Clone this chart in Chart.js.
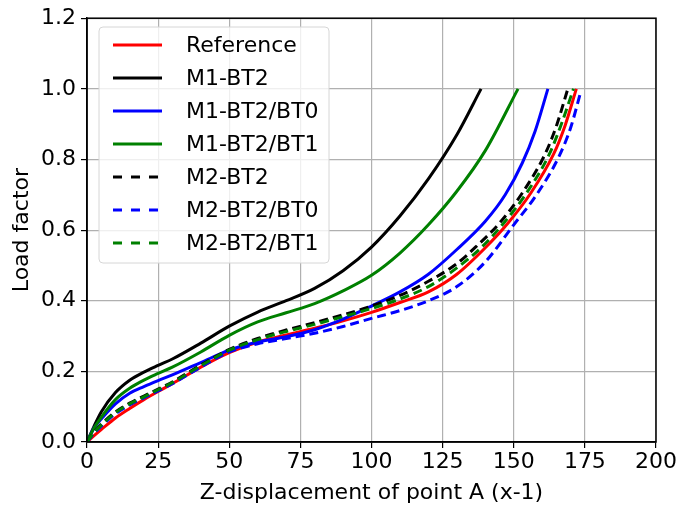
<!DOCTYPE html>
<html>
<head>
<meta charset="utf-8">
<script src="https://cdn.jsdelivr.net/npm/chart.js@4/dist/chart.umd.min.js"></script>
<style>
  html, body { margin: 0; padding: 0; background: #fff; }
  #wrap { width: 681px; height: 507px; }
</style>
</head>
<body>
<div id="wrap"><canvas id="loadChart" width="681" height="507"></canvas></div>
<script>
// values
const labels = ['Reference', 'M1-BT2', 'M1-BT2/BT0', 'M1-BT2/BT1', 'M2-BT2', 'M2-BT2/BT0', 'M2-BT2/BT1'];

const refX = [0, 2.5, 5, 10, 15, 20, 25, 30, 40, 50, 60, 70, 80, 90, 100, 110, 120, 130, 140, 148, 156, 164, 168, 172];
const refY = [0, 0.018, 0.035, 0.068, 0.095, 0.12, 0.143, 0.165, 0.212, 0.253, 0.283, 0.303, 0.322, 0.343, 0.367, 0.395, 0.425, 0.475, 0.55, 0.62, 0.705, 0.815, 0.895, 1.0];

const m1X = [0, 2.5, 5, 10, 15, 20, 25, 30, 40, 50, 60, 70, 80, 90, 100, 110, 120, 130, 138.5];
const m1Y = [0, 0.045, 0.085, 0.14, 0.175, 0.198, 0.217, 0.235, 0.28, 0.328, 0.368, 0.4, 0.435, 0.485, 0.552, 0.64, 0.745, 0.87, 1.0];

const m1bt0X = [0, 2.5, 5, 10, 15, 20, 25, 30, 40, 50, 60, 70, 80, 90, 100, 110, 120, 130, 140, 147, 153, 157.5, 162];
const m1bt0Y = [0, 0.04, 0.065, 0.108, 0.138, 0.157, 0.174, 0.19, 0.225, 0.26, 0.283, 0.298, 0.318, 0.348, 0.385, 0.425, 0.475, 0.545, 0.625, 0.7, 0.79, 0.88, 1.0];

const m1bt1X = [0, 2.5, 5, 10, 15, 20, 25, 30, 40, 50, 60, 70, 80, 90, 100, 110, 120, 130, 140, 151.5];
const m1bt1Y = [0, 0.04, 0.07, 0.12, 0.152, 0.175, 0.194, 0.212, 0.255, 0.302, 0.34, 0.366, 0.392, 0.428, 0.472, 0.535, 0.615, 0.71, 0.825, 1.0];

const m2X = [0, 2.5, 5, 10, 15, 20, 25, 30, 40, 50, 60, 70, 80, 90, 100, 110, 120, 130, 137, 145, 153, 161, 165, 169];
const m2Y = [0, 0.028, 0.05, 0.085, 0.11, 0.13, 0.15, 0.17, 0.218, 0.262, 0.293, 0.317, 0.338, 0.36, 0.385, 0.415, 0.455, 0.505, 0.555, 0.62, 0.705, 0.815, 0.895, 1.0];

const m2bt0X = [0, 2.5, 5, 10, 15, 20, 25, 30, 40, 50, 60, 70, 80, 90, 100, 110, 120, 130, 140, 150, 158, 166, 170, 173.5];
const m2bt0Y = [0, 0.025, 0.045, 0.08, 0.105, 0.125, 0.145, 0.165, 0.212, 0.255, 0.278, 0.293, 0.308, 0.327, 0.35, 0.372, 0.4, 0.44, 0.51, 0.615, 0.7, 0.81, 0.89, 0.99];

const m2bt1X = [0, 2.5, 5, 10, 15, 20, 25, 30, 40, 50, 60, 70, 80, 90, 100, 110, 120, 130, 138.5, 146.5, 154.5, 162.5, 166.5, 171];
const m2bt1Y = [0, 0.027, 0.048, 0.083, 0.108, 0.128, 0.148, 0.168, 0.216, 0.26, 0.29, 0.313, 0.333, 0.355, 0.378, 0.405, 0.44, 0.493, 0.55, 0.62, 0.705, 0.815, 0.895, 1.0];

const xTicks = [0, 25, 50, 75, 100, 125, 150, 175, 200];
const yTicks = [0, 0.2, 0.4, 0.6, 0.8, 1.0, 1.2];

const FONT = "'DejaVu Sans', sans-serif";

function pts(xs, ys) {
    return xs.map((x, i) => ({ x: x, y: ys[i] }));
}

const series = [
    { x: refX,   y: refY,   color: '#ff0000', dash: [] },
    { x: m1X,    y: m1Y,    color: '#000000', dash: [] },
    { x: m1bt0X, y: m1bt0Y, color: '#0000ff', dash: [] },
    { x: m1bt1X, y: m1bt1Y, color: '#008000', dash: [] },
    { x: m2X,    y: m2Y,    color: '#000000', dash: [9, 5] },
    { x: m2bt0X, y: m2bt0Y, color: '#0000ff', dash: [9, 5] },
    { x: m2bt1X, y: m2bt1Y, color: '#008000', dash: [9, 5] }
];

const datasets = series.map((s, i) => ({
    label: labels[i],
    data: pts(s.x, s.y),
    borderColor: s.color,
    backgroundColor: s.color,
    borderWidth: 3,
    borderDash: s.dash,
    pointRadius: 0,
    fill: false,
    cubicInterpolationMode: 'monotone',
    order: series.length - i   // later series on top, as in the original
}));

// black frame round the plot area
const frame = {
    id: 'frame',
    afterDatasetsDraw(chart) {
        const a = chart.chartArea, c = chart.ctx;
        c.save();
        c.strokeStyle = '#000';
        c.lineWidth = 1.5;
        c.strokeRect(a.left, a.top, a.right - a.left, a.bottom - a.top);
        c.restore();
    }
};

// matplotlib style legend in the upper left corner
const boxLegend = {
    id: 'boxLegend',
    afterDraw(chart) {
        const c = chart.ctx;
        const x0 = 99, y0 = 27, w = 230, h = 236, r = 4;
        c.save();
        c.beginPath();
        c.moveTo(x0 + r, y0);
        c.arcTo(x0 + w, y0, x0 + w, y0 + h, r);
        c.arcTo(x0 + w, y0 + h, x0, y0 + h, r);
        c.arcTo(x0, y0 + h, x0, y0, r);
        c.arcTo(x0, y0, x0 + w, y0, r);
        c.closePath();
        c.fillStyle = 'rgba(255,255,255,0.8)';
        c.fill();
        c.strokeStyle = '#d6d6d6';
        c.lineWidth = 1;
        c.stroke();

        c.font = '22px ' + FONT;
        c.textBaseline = 'middle';
        c.fillStyle = '#000';
        chart.data.datasets.forEach((ds, i) => {
            const y = 45 + i * 33;
            c.beginPath();
            c.strokeStyle = ds.borderColor;
            c.lineWidth = 3;
            c.setLineDash(ds.borderDash.length ? [9, 9] : []);
            c.moveTo(113, y);
            c.lineTo(162, y);
            c.stroke();
            c.setLineDash([]);
            c.fillText(ds.label, 186, y + 1);
        });
        c.restore();
    }
};

const ctx = document.getElementById('loadChart');
new Chart(ctx, {
    type: 'line',
    data: { datasets: datasets },
    options: {
        responsive: false,
        animation: false,
        events: [],
        layout: { padding: { top: 17, right: 25, left: 0, bottom: 0 } },
        plugins: {
            legend: { display: false },
            tooltip: { enabled: false }
        },
        scales: {
            x: {
                type: 'linear',
                min: 0,
                max: 200,
                afterBuildTicks: (axis) => { axis.ticks = xTicks.map(v => ({ value: v })); },
                afterFit: (axis) => { axis.height = 65; },
                grid: { color: '#b0b0b0', lineWidth: 1.2, tickColor: '#000', tickLength: 6 },
                border: { color: '#000', width: 1.5 },
                ticks: { color: '#000', font: { family: FONT, size: 22 }, padding: 1, maxRotation: 0 },
                title: {
                    display: true,
                    text: 'Z-displacement of point A (x-1)',
                    color: '#000',
                    font: { family: FONT, size: 22 },
                    padding: { top: 0, bottom: 1 }
                }
            },
            y: {
                type: 'linear',
                min: 0,
                max: 1.2,
                afterBuildTicks: (axis) => { axis.ticks = yTicks.map(v => ({ value: v })); },
                afterFit: (axis) => { axis.width = 87; },
                grid: { color: '#b0b0b0', lineWidth: 1.2, tickColor: '#000', tickLength: 6 },
                border: { color: '#000', width: 1.5 },
                ticks: {
                    color: '#000',
                    font: { family: FONT, size: 22 },
                    padding: 5,
                    callback: (v) => v.toFixed(1)
                },
                title: {
                    display: true,
                    text: 'Load factor',
                    color: '#000',
                    font: { family: FONT, size: 22 },
                    padding: { top: 9, bottom: 0 }
                }
            }
        }
    },
    plugins: [frame, boxLegend]
});
</script>
</body>
</html>
